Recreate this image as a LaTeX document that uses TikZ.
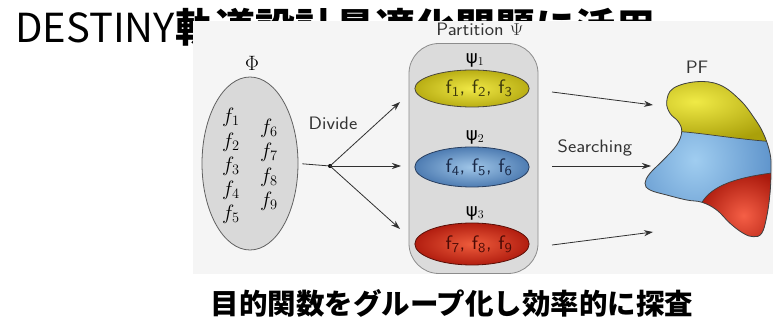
\documentclass[tikz,border=0pt]{standalone}
\usepackage{fontspec}
\newfontfamily\jp{Noto Sans CJK JP}
\newfontfamily\grk{DejaVu Sans}
\usetikzlibrary{arrows.meta,shapes.geometric}
\definecolor{bgfig}{HTML}{F5F5F5}
\definecolor{txt}{HTML}{333333}
\definecolor{lineclr}{HTML}{303030}
\newcommand{\stx}[1]{\scalebox{1.1}[1]{#1}}
\newcommand{\sfsub}[1]{f$_{\mathsf{#1}}$}
\tikzset{
  lbl/.style={text=txt, inner sep=0pt, font=\fontsize{18}{20}\selectfont\sffamily},
  flbl/.style={text=black, inner sep=0pt, font=\fontsize{20.5}{22}\selectfont},
  conn/.style={draw=lineclr, line width=0.8pt, -{Stealth[length=9pt,width=6pt]}},
  grp/.style={ellipse, minimum width=104pt, inner sep=0pt, line width=0.8pt,
     font=\fontsize{19.5}{21}\selectfont\sffamily},
}
\begin{document}
\begin{tikzpicture}[x=1pt,y=-1pt]
\useasboundingbox (0,0) rectangle (773,328);
\fill[white] (0,0) rectangle (773,328);
% title
\node[anchor=base west, inner sep=0pt, font=\fontsize{40}{44}\selectfont\jp] (title) at (15,43)
  {DESTINY{\bfseries 軌道設計最適化問題に活用}};
% figure background
\fill[bgfig] (193,21) rectangle (773,274);
% Phi set
\node[ellipse, draw=black!62, fill=black!15, line width=0.8pt, minimum width=96pt, minimum height=173pt] (phi) at (250,163.5) {};
\node[flbl] (philbl) at (252,63) {$\Phi$};
\node[flbl] (f1) at (231,117) {$f_1$};
\node[flbl] (f2) at (231,142) {$f_2$};
\node[flbl] (f3) at (231,166) {$f_3$};
\node[flbl] (f4) at (231,190) {$f_4$};
\node[flbl] (f5) at (231,214) {$f_5$};
\node[flbl] (f6) at (269,128) {$f_6$};
\node[flbl] (f7) at (269,152) {$f_7$};
\node[flbl] (f8) at (269,177) {$f_8$};
\node[flbl] (f9) at (269,201) {$f_9$};
% divide
\node[lbl] (divide) at (333,123) {\stx{Divide}};
\node[circle, fill=black, inner sep=0pt, minimum size=4pt] (br) at (330,166) {};
\coordinate (t1) at (400,102);
\coordinate (t2) at (401,166);
\coordinate (t3) at (400,229);
\draw[draw=lineclr, line width=0.8pt, shorten <=4pt] (phi.east) -- (br.center);
\draw[conn] (br.center) -- (t1);
\draw[conn] (br.center) -- (t2);
\draw[conn] (br.center) -- (t3);
% partition container
\node[draw=black!45, fill=black!14, line width=0.8pt, rounded corners=30pt, minimum width=129pt, minimum height=230pt, inner sep=0pt] (part) at (473.5,158.5) {};
\node[lbl] (partlbl) at (480,29) {\stx{Partition $\Psi$}};
\node[lbl, text=black, font=\fontsize{18}{20}\selectfont] (psi1) at (475,60) {\grk ψ$_1$};
\node[lbl, text=black, font=\fontsize{18}{20}\selectfont] (psi2) at (475,137) {\grk ψ$_2$};
\node[lbl, text=black, font=\fontsize{18}{20}\selectfont] (psi3) at (475,213) {\grk ψ$_3$};
\node[grp, minimum height=37pt, draw=black!70!yellow!60!black, inner color={rgb,255:red,240;green,232;blue,70}, outer color={rgb,255:red,185;green,174;blue,20}, text={rgb,255:red,60;green,56;blue,12}] (g1) at (472,88.5) {\hspace{14pt}\stx{\sfsub{1}, \sfsub{2}, \sfsub{3}}};
\node[grp, minimum height=40pt, draw={rgb,255:red,40;green,62;blue,95}, inner color={rgb,255:red,160;green,198;blue,232}, outer color={rgb,255:red,78;green,124;blue,178}, text={rgb,255:red,25;green,40;blue,70}] (g2) at (472,167) {\hspace{14pt}\stx{\sfsub{4}, \sfsub{5}, \sfsub{6}}};
\node[grp, minimum height=42pt, draw={rgb,255:red,90;green,16;blue,8}, inner color={rgb,255:red,238;green,92;blue,60}, outer color={rgb,255:red,178;green,30;blue,16}, text={rgb,255:red,75;green,10;blue,5}] (g3) at (472,244) {\hspace{14pt}\stx{\sfsub{7}, \sfsub{8}, \sfsub{9}}};
% searching arrows
\coordinate (s1a) at (552,92);  \coordinate (s1b) at (653,105);
\coordinate (s2a) at (552,166); \coordinate (s2b) at (651,166);
\coordinate (s3a) at (552,245); \coordinate (s3b) at (653,232);
\draw[conn] (s1a) -- (s1b);
\draw[conn] (s2a) -- (s2b);
\draw[conn] (s3a) -- (s3b);
\node[lbl] (search) at (595,148) {\stx{Searching}};
\node[lbl] (pf) at (697,67) {\stx{PF}};
% PF shape
\def\pfoutline{plot[smooth cycle, tension=0.65] coordinates {
 (666.7,101.7) (673.3,88.3) (696.7,81.7) (720,85) (740,100) (753.3,116.7)
 (763.3,133.3) (770,153.3) (771,170) (770,193.3) (766.7,216.7) (761.7,233.3)
 (753.3,236.7) (743.3,233.3) (730,223.3) (716.7,210) (702,202.3) (686.7,200)
 (666.7,195) (650,190) (645,183.3) (650,173.3) (663.3,160) (676.7,145)
 (681.7,131.7) (678.3,121.7) (670,113.3)}}
\begin{scope}
\clip \pfoutline;
\shade[inner color={rgb,255:red,160;green,205;blue,240}, outer color={rgb,255:red,80;green,135;blue,195}] (600,60) rectangle (790,260);
\shade[inner color={rgb,255:red,240;green,234;blue,70}, outer color={rgb,255:red,170;green,160;blue,10}] (600,60) -- (600,131.7) -- (681.7,131.7) .. controls (710,134) and (740,140) .. (790,143) -- (790,60) -- cycle;
\shade[inner color={rgb,255:red,245;green,95;blue,70}, outer color={rgb,255:red,170;green,25;blue,12}] (702,202.3) .. controls (712,186) and (735,176) .. (790,171) -- (790,260) -- (697,260) -- cycle;
\draw[black!75, line width=0.7pt] (681.7,131.7) .. controls (710,134) and (740,140) .. (790,143);
\draw[black!75, line width=0.7pt] (702,202.3) .. controls (712,186) and (735,176) .. (790,171);
\end{scope}
\draw[black!75, line width=0.8pt] \pfoutline;
% caption
\node[inner sep=0pt, font=\fontsize{28.5}{32}\selectfont\jp\bfseries] (caption) at (452,303) {目的関数をグループ化し効率的に探査};
\end{tikzpicture}
\end{document}
